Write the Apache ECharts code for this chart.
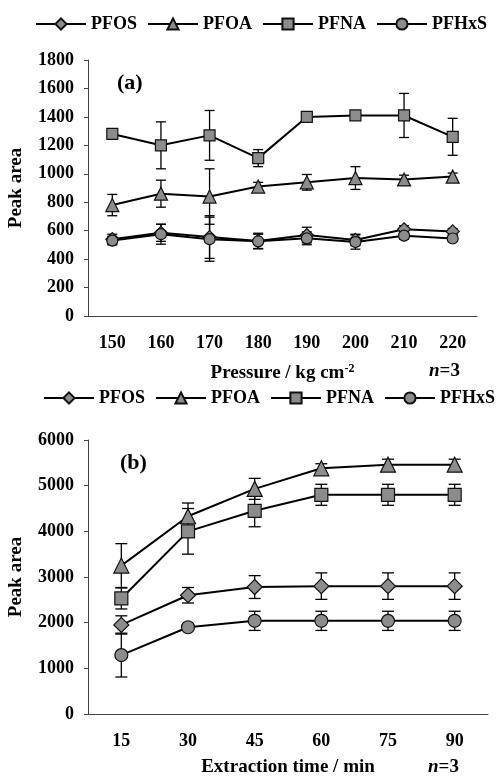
<!DOCTYPE html>
<html>
<head>
<meta charset="utf-8">
<script src="https://cdn.jsdelivr.net/npm/echarts@6/dist/echarts.min.js"></script>
<style>
  html,body{margin:0;padding:0;background:#fff;}
  #main{width:497px;height:776px;}
</style>
</head>
<body>
<div id="main"></div>
<script>
// panel (a): pressure
var pressure = ['150','160','170','180','190','200','210','220'];
var a_PFOS = [540,585,555,527,569,535,610,595];
var a_PFOS_err = [35,60,150,55,55,40,25,20];
var a_PFOA = [780,860,840,910,940,970,960,980];
var a_PFOA_err = [75,95,195,30,55,80,30,25];
var a_PFNA = [1280,1200,1270,1110,1400,1410,1410,1260];
var a_PFNA_err = [20,165,175,60,20,15,155,130];
var a_PFHxS = [530,575,540,525,546,520,565,545];
var a_PFHxS_err = [30,70,155,50,45,50,25,20];

// panel (b): extraction time
var time = ['15','30','45','60','75','90'];
var b_PFOS = [1950,2600,2780,2800,2800,2800];
var b_PFOS_err = [200,170,250,290,290,290];
var b_PFOA = [3250,4330,4930,5380,5460,5460];
var b_PFOA_err = [480,290,230,100,120,120];
var b_PFNA = [2530,4000,4450,4800,4800,4800];
var b_PFNA_err = [230,500,350,230,230,230];
var b_PFHxS = [1290,1900,2040,2040,2040,2040];
var b_PFHxS_err = [480,70,210,210,210,210];

var names = ['PFOS','PFOA','PFNA','PFHxS'];
var symbols = ['diamond','triangle','rect','circle'];
var font = '"Liberation Serif","Times New Roman",serif';

function errData(vals, errs){
    var out = [];
    for(var i=0;i<vals.length;i++){
        out.push([i, vals[i]-errs[i], vals[i]+errs[i]]);
    }
    return out;
}

function errBar(cap){
    return function(params, api){
        var x = api.value(0);
        var lo = api.coord([x, api.value(1)]);
        var hi = api.coord([x, api.value(2)]);
        var st = {stroke:'#000', lineWidth:1.3};
        return {type:'group', children:[
            {type:'line', shape:{x1:lo[0],y1:lo[1],x2:hi[0],y2:hi[1]}, style:st},
            {type:'line', shape:{x1:lo[0]-cap,y1:lo[1],x2:lo[0]+cap,y2:lo[1]}, style:st},
            {type:'line', shape:{x1:hi[0]-cap,y1:hi[1],x2:hi[0]+cap,y2:hi[1]}, style:st}
        ]};
    };
}

var setsA = [[a_PFOS,a_PFOS_err],[a_PFOA,a_PFOA_err],[a_PFNA,a_PFNA_err],[a_PFHxS,a_PFHxS_err]];
var setsB = [[b_PFOS,b_PFOS_err],[b_PFOA,b_PFOA_err],[b_PFNA,b_PFNA_err],[b_PFHxS,b_PFHxS_err]];

var series = [];
function addSeries(sets, idx, size, cap){
    for(var k=0;k<4;k++){
        series.push({
            name: names[k], type:'line', xAxisIndex:idx, yAxisIndex:idx,
            data: sets[k][0], symbol: symbols[k],
            symbolSize: symbols[k]=='rect' || symbols[k]=='circle' ? size : size+2,
            lineStyle:{color:'#000', width:2},
            itemStyle:{color:'#8c8c8c', borderColor:'#111', borderWidth:1.2},
            z:3
        });
    }
    for(var k=0;k<4;k++){
        series.push({
            name: names[k]+' err', type:'custom', xAxisIndex:idx, yAxisIndex:idx,
            renderItem: errBar(cap), encode:{x:0, y:[1,2]},
            data: errData(sets[k][0], sets[k][1]), z:2, silent:true
        });
    }
}
addSeries(setsA, 0, 11, 5);
addSeries(setsB, 1, 13, 6);

function xAxis(idx, data, nameRich, gap){
    return {
        type:'category', gridIndex:idx, data:data, boundaryGap:true,
        axisLine:{lineStyle:{color:'#444', width:1}},
        axisTick:{inside:true, length:4, lineStyle:{color:'#444'}},
        axisLabel:{color:'#000', fontFamily:font, fontWeight:'bold', fontSize:18, margin:18},
        nameLocation:'middle', nameGap:gap,
        name: nameRich,
        nameTextStyle:{color:'#000', fontFamily:font, fontWeight:'bold', fontSize:19,
            rich:{sup:{fontFamily:font, fontWeight:'bold', fontSize:12, color:'#000', verticalAlign:'top', padding:[0,0,8,0]}}}
    };
}
function yAxis(idx, max, interval){
    return {
        type:'value', gridIndex:idx, min:0, max:max, interval:interval,
        splitLine:{show:false},
        axisLine:{show:true, lineStyle:{color:'#444', width:1}},
        axisTick:{show:true, length:4, lineStyle:{color:'#444'}},
        axisLabel:{color:'#000', fontFamily:font, fontWeight:'bold', fontSize:18, margin:14,
            formatter:function(v){return String(v);}},
        name:'Peak area', nameLocation:'middle', nameGap:62,
        nameTextStyle:{color:'#000', fontFamily:font, fontWeight:'bold', fontSize:19}
    };
}

var legendBase = {
    data: names, orient:'horizontal', itemWidth:50, itemHeight:14, itemGap:10,
    width:480,
    textStyle:{color:'#000', fontFamily:font, fontWeight:'bold', fontSize:18},
    selectedMode:false
};

var option = {
    animation:false,
    backgroundColor:'#fff',
    legend:[
        Object.assign({}, legendBase, {left:30, top:10}),
        Object.assign({}, legendBase, {left:38, top:384})
    ],
    grid:[
        {left:88, top:60, width:389, height:256, outerBoundsMode:'none'},
        {left:88, top:440, width:400, height:274, outerBoundsMode:'none'}
    ],
    xAxis:[
        xAxis(0, pressure, 'Pressure / kg cm{sup|-2}', 47),
        xAxis(1, time, 'Extraction time / min', 44)
    ],
    yAxis:[
        yAxis(0, 1800, 200),
        yAxis(1, 6000, 1000)
    ],
    graphic:[
        {type:'text', left:117, top:72, style:{text:'(a)', font:'bold 22px '+font, fill:'#000'}},
        {type:'text', left:120, top:452, style:{text:'(b)', font:'bold 22px '+font, fill:'#000'}},
        {type:'text', left:429, top:362, style:{text:'{i|n}=3', font:'bold 19px '+font, fill:'#000',
            rich:{i:{fontStyle:'italic', fontWeight:'bold', fontFamily:font, fontSize:19}}}},
        {type:'text', left:428, top:758, style:{text:'{i|n}=3', font:'bold 19px '+font, fill:'#000',
            rich:{i:{fontStyle:'italic', fontWeight:'bold', fontFamily:font, fontSize:19}}}}
    ],
    series: series
};

var myChart = echarts.init(document.getElementById('main'));
myChart.setOption(option);
</script>
</body>
</html>
